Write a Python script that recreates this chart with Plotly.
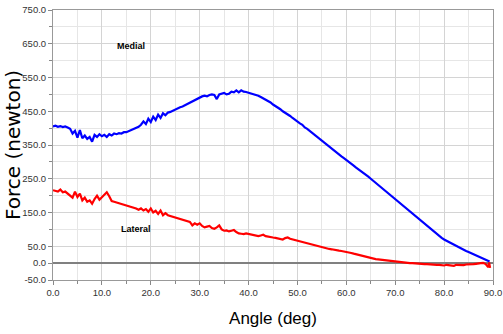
import plotly.graph_objects as go

# Sampling grid of the sweep: every half degree from 0 to 89, plus the last few samples near 90
base_angle = [i * 0.5 for i in range(179)]

# Medial force (newton) on the half-degree grid
medial_force = [
    405, 407, 404, 406, 403, 405, 402, 398, 384, 392,   # 0 - 4.5
    372, 394, 370, 378, 368, 374, 360, 380, 374, 382,   # 5 - 9.5
    376, 380, 374, 382, 378, 384, 382, 385, 384, 388,   # 10 - 14.5
    388, 391, 393, 396, 400, 404, 410, 420, 412, 428,   # 15 - 19.5
    418, 434, 424, 440, 430, 444, 438, 446, 448, 452,   # 20 - 24.5
    454, 458, 462, 464, 468, 472, 475, 480, 484, 486,   # 25 - 29.5
    490, 494, 496, 494, 498, 500, 498, 486, 500, 502,   # 30 - 34.5
    504, 500, 502, 508, 506, 512, 506, 512, 508, 507,   # 35 - 39.5
    505, 503, 500, 498, 496, 492, 488, 486, 482, 476,   # 40 - 44.5
    470, 466, 460, 456, 450, 446, 440, 436, 430, 424,   # 45 - 49.5
    418, 414, 410, 402, 398, 392, 388, 381, 375, 368,   # 50 - 54.5
    362, 356, 350, 344, 338, 333, 328, 321, 316, 311,   # 55 - 59.5
    306, 300, 295, 289, 283, 278, 272, 267, 261, 256,   # 60 - 64.5
    250, 244, 238, 232, 226, 220, 214, 207, 200, 194,   # 65 - 69.5
    188, 182, 176, 170, 164, 158, 152, 146, 140, 134,   # 70 - 74.5
    128, 122, 116, 110, 104, 97, 92, 86, 80, 75,        # 75 - 79.5
    70, 66, 62, 58, 54, 50, 47, 43, 40, 36,             # 80 - 84.5
    33, 30, 27, 23, 20, 17, 14, 11, 8,                  # 85 - 89
]
medial_tail_angle = [89.3]
medial_tail_force = [5]

# Lateral force (newton) on the half-degree grid
lateral_force = [
    216, 214, 212, 218, 210, 212, 206, 200, 194, 212,   # 0 - 4.5
    196, 206, 186, 194, 182, 186, 176, 190, 200, 188,   # 5 - 9.5
    196, 204, 210, 198, 184, 182, 180, 178, 176, 174,   # 10 - 14.5
    172, 170, 168, 165, 162, 158, 162, 156, 160, 152,   # 15 - 19.5
    162, 150, 155, 146, 156, 142, 148, 142, 140, 138,   # 20 - 24.5
    136, 133, 130, 128, 126, 124, 122, 112, 118, 114,   # 25 - 29.5
    118, 110, 106, 108, 110, 104, 102, 106, 112, 100,   # 30 - 34.5
    96, 97, 94, 96, 98, 92, 88, 87, 86, 88,             # 35 - 39.5
    86, 84, 82, 81, 80, 82, 84, 80, 78, 77,             # 40 - 44.5
    76, 75, 74, 72, 70, 74, 76, 72, 70, 69,             # 45 - 49.5
    68, 66, 64, 62, 60, 58, 56, 54, 52, 50,             # 50 - 54.5
    48, 46, 44, 42, 41, 39, 38, 37, 36, 35,             # 55 - 59.5
    34, 32, 30, 28, 26, 24, 22, 20, 18, 16,             # 60 - 64.5
    15, 13, 12, 11, 10, 9, 8, 7, 6, 5,                  # 65 - 69.5
    5, 4, 3, 2, 1, 1, 0, 0, -1, -1,                     # 70 - 74.5
    -2, -2, -3, -3, -4, -4, -5, -5, -5, -6,             # 75 - 79.5
    -7, -5, -6, -8, -8, -5, -5, -7, -6, -4,             # 80 - 84.5
    -4, -5, -3, -2, -2, 0, 1, -3, -12,                  # 85 - 89
]
lateral_tail_angle = [89.2, 89.4]
lateral_tail_force = [2, -14]

y_ticks = [750, 650, 550, 450, 350, 250, 150, 50, 0, -50]
x_ticks = [0, 10, 20, 30, 40, 50, 60, 70, 80, 90]

tick_font = dict(family="Liberation Sans, Arial, sans-serif", size=9.5, color="#333333")
label_font = dict(family="Liberation Sans, Arial, sans-serif", size=9, color="#000000")

fig = go.Figure()
fig.add_trace(go.Scatter(x=base_angle + medial_tail_angle, y=medial_force + medial_tail_force,
                         mode="lines", line=dict(color="#0000ff", width=2.2), name="Medial"))
fig.add_trace(go.Scatter(x=base_angle + lateral_tail_angle, y=lateral_force + lateral_tail_force,
                         mode="lines", line=dict(color="#ff0000", width=2.2), name="Lateral"))

fig.add_annotation(x=16.0, y=644, text="<b>Medial</b>", showarrow=False, font=label_font)
fig.add_annotation(x=17.0, y=101, text="<b>Lateral</b>", showarrow=False, font=label_font)

# Vertical axis title, placed in paper coordinates left of the tick labels
fig.add_annotation(xref="paper", yref="paper", x=-40 / 440, y=0.5, xanchor="center", yanchor="middle",
                   text="Force (newton)", textangle=-90, showarrow=False,
                   font=dict(family="DejaVu Sans, sans-serif", size=20, color="#000000"))

fig.update_layout(
    width=503, height=334,
    margin=dict(l=53, r=10, t=10, b=54),
    paper_bgcolor="white", plot_bgcolor="white",
    showlegend=False,
    xaxis=dict(
        range=[0, 90], tickvals=x_ticks, ticktext=[f"{v:.1f}" for v in x_ticks],
        tickfont=tick_font, ticks="outside", ticklen=4, tickcolor="#888888",
        ticklabeloverflow="allow", automargin=False,
        showgrid=True, gridcolor="#d4d4d4", gridwidth=1,
        minor=dict(dtick=5, showgrid=True, gridcolor="#e6e6e6", ticks="outside", ticklen=3, tickcolor="#888888"),
        showline=True, linecolor="#999999", mirror=True, zeroline=False,
        title=dict(text="Angle (deg)", standoff=14,
                   font=dict(family="Liberation Sans, Arial, sans-serif", size=17, color="#000000")),
    ),
    yaxis=dict(
        range=[-50, 750], tickvals=y_ticks, ticktext=[f"{v:.1f}" for v in y_ticks],
        tickfont=tick_font, ticks="outside", ticklen=4, tickcolor="#888888",
        automargin=False,
        showgrid=True, gridcolor="#d4d4d4", gridwidth=1,
        minor=dict(dtick=50, showgrid=True, gridcolor="#e6e6e6", ticks="outside", ticklen=3, tickcolor="#888888"),
        showline=True, linecolor="#999999", mirror=True,
        zeroline=True, zerolinecolor="#808080", zerolinewidth=1.5,
    ),
)

fig.write_html("out.html")
